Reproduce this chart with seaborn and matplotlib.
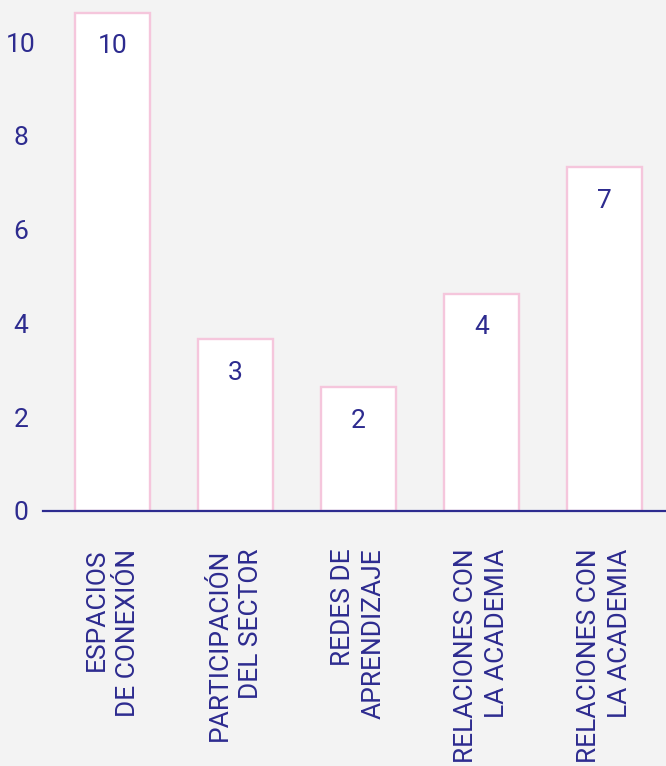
import matplotlib
matplotlib.use("Agg")
import matplotlib.pyplot as plt
import seaborn as sns
import pandas as pd

# Data
categories = [
    "ESPACIOS\nDE CONEXIÓN",
    "PARTICIPACIÓN\nDEL SECTOR",
    "REDES DE\nAPRENDIZAJE",
    "RELACIONES CON\nLA ACADEMIA",
    "RELACIONES CON\nLA ACADEMIA",
]
values = [10.62, 3.66, 2.64, 4.63, 7.33]
value_labels = [str(int(v)) for v in values]
y_ticks = [0, 2, 4, 6, 8, 10]

navy = "#2d2b8f"
pink = "#f5c6dc"
bg = "#f3f3f3"

sns.set_theme(style="white")
plt.rcParams["font.family"] = ["Roboto", "DejaVu Sans"]

fig = plt.figure(figsize=(6.66, 7.66), dpi=100, facecolor=bg)
ax = fig.add_axes([43 / 666, 255 / 766, 1 - 43 / 666, 511 / 766])
ax.set_facecolor(bg)

df = pd.DataFrame({"pos": list(range(len(values))), "value": values})
sns.barplot(data=df, x="pos", y="value", color="white", edgecolor=pink,
            linewidth=1.7, width=0.61, saturation=1, ax=ax)

for patch, lab in zip(ax.patches, value_labels):
    cx = patch.get_x() + patch.get_width() / 2
    ax.annotate(lab, (cx, patch.get_height()), xytext=(0, -24),
                textcoords="offset points", ha="center", va="center",
                fontsize=19, color=navy)

ax.set_xlim(-0.565, 4.5)
ax.set_ylim(0, 10.9)
ax.set_yticks(y_ticks)
ax.set_yticklabels([str(t) for t in y_ticks], fontsize=19, color=navy, ha="center")
ax.tick_params(axis="y", length=0, pad=16)

ax.set_xticks(range(len(categories)))
labels = ax.set_xticklabels(categories, rotation=90, fontsize=19, color=navy,
                            va="top", ha="center",
                            family=["Liberation Sans Narrow", "Roboto", "DejaVu Sans"])
for t in labels:
    t.set_multialignment("right")
    t.set_linespacing(1.37)
ax.tick_params(axis="x", length=0, pad=27)
ax.set_xlabel("")
ax.set_ylabel("")

for side in ["top", "right", "left"]:
    ax.spines[side].set_visible(False)
ax.spines["bottom"].set_color(navy)
ax.spines["bottom"].set_linewidth(1.6)

fig.savefig("out.png", dpi=100, facecolor=bg)
